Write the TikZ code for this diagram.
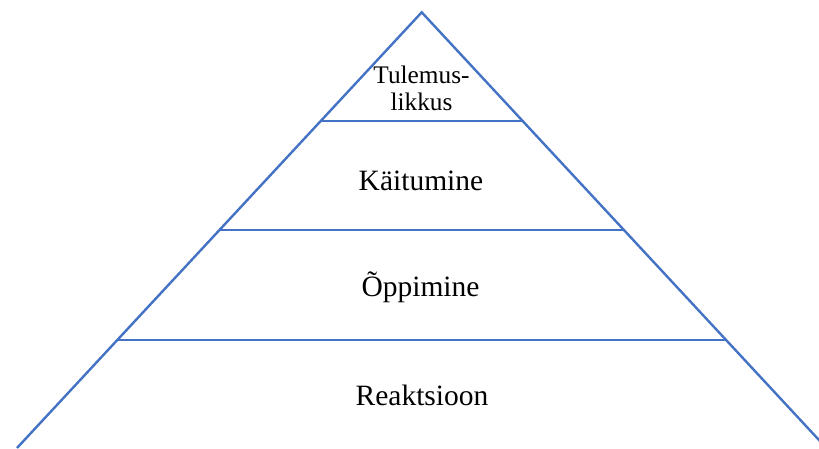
\documentclass[tikz,border=0pt]{standalone}
\usepackage{fontspec}
\setmainfont{Liberation Serif}
\definecolor{tierblue}{HTML}{4472C4}
\begin{document}
\begin{tikzpicture}[x=1pt,y=1pt,
  edge/.style={draw=tierblue,line width=2.4pt},
  tier/.style={font=\fontsize{29.5}{34}\selectfont,inner sep=0pt,anchor=base},
  toptier/.style={font=\fontsize{25.3}{27}\selectfont,inner sep=0pt,align=center}]
\useasboundingbox (0,0) rectangle (819,448);
\clip (0,0) rectangle (819,448);
% outline of the pyramid
\coordinate (apex) at (421.7,435.7);
\coordinate (bl) at (17,0);
\coordinate (br) at (826.4,0);
\draw[edge,line join=miter] (bl) -- (apex) -- (br);
% level dividers
\coordinate (l1) at (320.5,327);
\coordinate (r1) at (523.5,327);
\coordinate (l2) at (219,218);
\coordinate (r2) at (624.5,218);
\coordinate (l3) at (116.5,108);
\coordinate (r3) at (726.5,108);
\draw[edge] (l1) -- (r1);
\draw[edge] (l2) -- (r2);
\draw[edge] (l3) -- (r3);
% level labels
\node[toptier] (results) at (421.5,360) {Tulemus-\\likkus};
\node[tier] (behaviour) at (421,258) {Käitumine};
\node[tier] (learning) at (420.5,152) {Õppimine};
\node[tier] (reaction) at (422,43) {Reaktsioon};
\end{tikzpicture}
\end{document}
